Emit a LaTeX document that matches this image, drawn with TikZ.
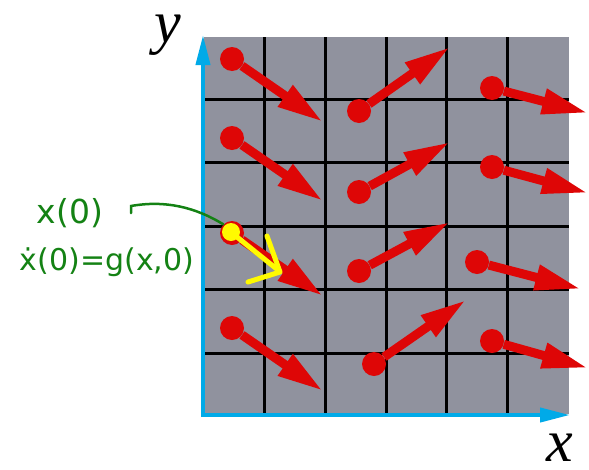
\documentclass[tikz,border=0pt]{standalone}
\usepackage{fontspec}
\setmainfont{Liberation Serif}
\newfontfamily\handfont{DejaVu Sans}
\usetikzlibrary{arrows.meta,positioning,calc}

\definecolor{vecred}{RGB}{222,6,6}
\definecolor{panel}{RGB}{144,146,158}
\definecolor{axisblue}{RGB}{0,170,232}
\definecolor{handgreen}{RGB}{20,130,20}
\definecolor{marker}{RGB}{255,250,0}

\begin{document}
\begin{tikzpicture}[
    x=1pt, y=-1pt,
    gridline/.style={black, line width=3pt},
    axis/.style={axisblue, line width=4pt, -{Triangle[length=30pt,width=14pt]}},
    dot/.style={circle, fill=vecred, inner sep=0pt, minimum size=24pt},
    vec/.style={vecred, line width=9pt, -{Triangle[length=46pt,width=24pt]}},
    axlab/.style={font=\fontsize{60}{60}\selectfont\itshape, inner sep=0pt},
    hand/.style={text=handgreen, font=\handfont\fontsize{30}{36}\selectfont, inner sep=0pt},
    scribble/.style={marker, line width=5pt, line cap=round, line join=round}
]
\useasboundingbox (0,0) rectangle (589,469);

% panel and grid
\fill[panel] (204,37) rectangle (569,414);
\foreach \gx in {264,325,386,446,507}
  \draw[gridline] (\gx,37) -- (\gx,414);
\foreach \gy in {99,162,226,289,353}
  \draw[gridline] (204,\gy) -- (569,\gy);

% axes
\coordinate (o) at (203,415);
\coordinate (ytip) at (203,35);
\coordinate (xtip) at (570,415);
\draw[axis] ($(o)+(0,2)$) -- (ytip);
\draw[axis] ($(o)+(-2,0)$) -- (xtip);
\node[axlab] (ylab) at (168,35) {y};
\node[axlab] (xlab) at (560,448) {x};

% vector field
\node[dot] (p11) at (232,59) {};  \coordinate (t11) at (323,122);
\node[dot] (p12) at (359,111) {}; \coordinate (t12) at (450,47);
\node[dot] (p13) at (492,88) {};  \coordinate (t13) at (588,113);
\node[dot] (p21) at (232,138) {}; \coordinate (t21) at (323,201);
\node[dot] (p22) at (359,192) {}; \coordinate (t22) at (450,142);
\node[dot] (p23) at (492,167) {}; \coordinate (t23) at (588,193);
\node[dot] (p31) at (232,233) {}; \coordinate (t31) at (323,296);
\node[dot] (p32) at (359,271) {}; \coordinate (t32) at (450,222);
\node[dot] (p33) at (477,262) {}; \coordinate (t33) at (581,289);
\node[dot] (p41) at (232,328) {}; \coordinate (t41) at (323,391);
\node[dot] (p42) at (374,364) {}; \coordinate (t42) at (466,300);
\node[dot] (p43) at (492,341) {}; \coordinate (t43) at (588,368);
\draw[vec] (p11) -- (t11);
\draw[vec] (p12) -- (t12);
\draw[vec] (p13) -- (t13);
\draw[vec] (p21) -- (t21);
\draw[vec] (p22) -- (t22);
\draw[vec] (p23) -- (t23);
\draw[vec] (p31) -- (t31);
\draw[vec] (p32) -- (t32);
\draw[vec] (p33) -- (t33);
\draw[vec] (p41) -- (t41);
\draw[vec] (p42) -- (t42);
\draw[vec] (p43) -- (t43);

% marker on the initial point
\fill[marker] (p31.center) ++(-1,-1) circle[radius=9pt];
\draw[scribble] (p31.center) -- (278,270);
\draw[scribble] (267,236) -- (280,272) -- (248,282);

% annotation
\node[hand, font=\handfont\fontsize{33}{36}\selectfont] (x0) at (70,213) {x(0)};
\node[hand] (xdot0) at (107,262) {\.{x}(0)=g(x,0)};
\draw[handgreen, line width=2.5pt, line cap=round]
  (131,213) -- (131,206) .. controls (165,200) and (195,207) .. (p31.north west);
\end{tikzpicture}
\end{document}
